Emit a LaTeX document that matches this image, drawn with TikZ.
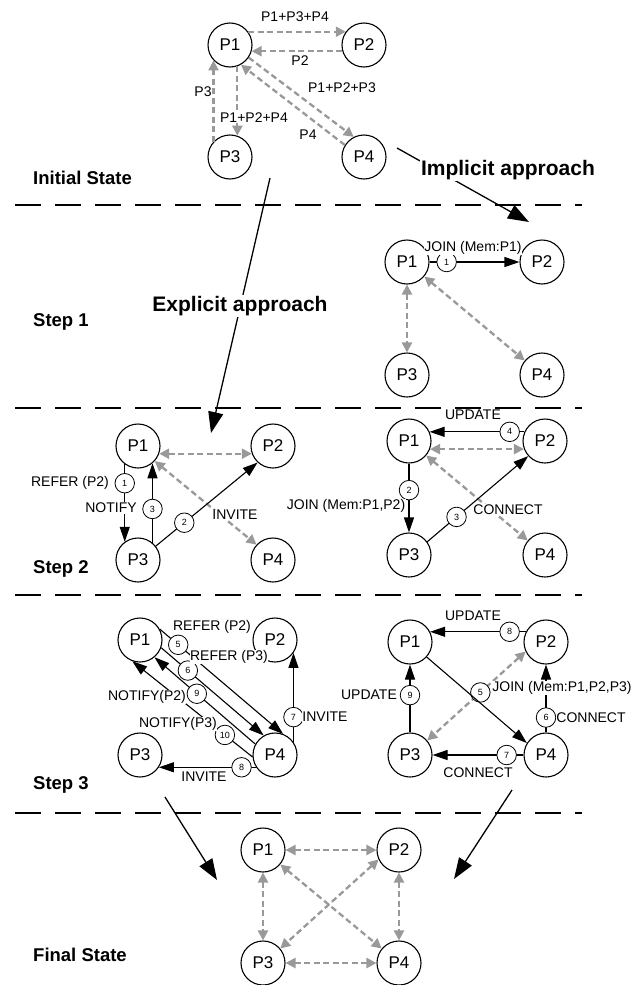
\documentclass[tikz,border=0pt]{standalone}
\usepackage{fontspec}
\setmainfont{Liberation Sans}
\usetikzlibrary{arrows.meta}
\definecolor{lgray}{RGB}{153,153,153}
\begin{document}
\begin{tikzpicture}[x=1pt,y=-1pt,
 pnode/.style={circle, draw, fill=white, line width=1.1pt, minimum size=44pt, inner sep=0pt, font=\fontsize{17}{17}\selectfont},
 num/.style={circle, draw=black, solid, fill=white, text=black, line width=0.8pt, minimum size=19.5pt, inner sep=0pt, font=\fontsize{9}{9}\selectfont},
 lbl/.style={fill=white, inner sep=0.6pt, font=\fontsize{14}{14}\selectfont},
 sarr/.style={line width=1.1pt, -{Triangle[length=15pt,width=10pt]}},
 gline/.style={draw=lgray, line width=2.3pt, dash pattern=on 6pt off 3.5pt},
 garr/.style={gline, -{Triangle[length=10pt,width=10pt]}},
 gdbl/.style={gline, {Triangle[length=10pt,width=10pt]}-{Triangle[length=10pt,width=10pt]}},
 bigarr/.style={line width=1.3pt, -{Triangle[length=21pt,width=15pt]}},
 steplbl/.style={anchor=west, inner sep=0pt, font=\bfseries\fontsize{18.5}{18.5}\selectfont},
 applbl/.style={fill=white, inner sep=1pt, font=\bfseries\fontsize{21}{21}\selectfont},
 sepline/.style={line width=1.2pt, dash pattern=on 26pt off 14pt}]
\useasboundingbox (0,0) rectangle (644,985);

% separators
\draw[sepline] (15,205) -- (582,205);
\draw[sepline] (15,408) -- (582,408);
\draw[sepline] (15,595) -- (582,595);
\draw[sepline] (15,813) -- (582,813);

% stage labels
\node[steplbl] (lInit) at (33,178) {Initial State};
\node[steplbl] (lS1) at (33,322) {Step 1};
\node[steplbl] (lS2) at (33,569) {Step 2};
\node[steplbl] (lS3) at (33,785) {Step 3};
\node[steplbl] (lFin) at (33,955) {Final State};

% nodes
\node[pnode] (i1) at (230,45) {P1};
\node[pnode] (i2) at (364,45) {P2};
\node[pnode] (i3) at (230,157) {P3};
\node[pnode] (i4) at (364,157) {P4};

\node[pnode] (a1) at (407,262) {P1};
\node[pnode] (a2) at (542,262) {P2};
\node[pnode] (a3) at (407,375) {P3};
\node[pnode] (a4) at (542,375) {P4};

\node[pnode] (b1) at (138,446) {P1};
\node[pnode] (b2) at (273,446) {P2};
\node[pnode] (b3) at (138,560) {P3};
\node[pnode] (b4) at (273,560) {P4};

\node[pnode] (c1) at (409,441) {P1};
\node[pnode] (c2) at (545,441) {P2};
\node[pnode] (c3) at (409,555) {P3};
\node[pnode] (c4) at (545,555) {P4};

\node[pnode] (d1) at (140,640) {P1};
\node[pnode] (d2) at (275,640) {P2};
\node[pnode] (d3) at (140,755) {P3};
\node[pnode] (d4) at (275,755) {P4};

\node[pnode] (e1) at (410,642) {P1};
\node[pnode] (e2) at (546,642) {P2};
\node[pnode] (e3) at (410,755) {P3};
\node[pnode] (e4) at (546,755) {P4};

\node[pnode] (f1) at (263,850) {P1};
\node[pnode] (f2) at (399,850) {P2};
\node[pnode] (f3) at (263,963) {P3};
\node[pnode] (f4) at (399,963) {P4};

% big arrows
\coordinate (ex0) at (270,178);
\coordinate (ex1) at (211,433);
\coordinate (im0) at (397,148);
\coordinate (im1) at (529,222);
\coordinate (fl0) at (165,797);
\coordinate (fl1) at (217,880);
\coordinate (fr0) at (512,790);
\coordinate (fr1) at (454,879);
\draw[bigarr] (ex0) -- (ex1);
\draw[bigarr] (im0) -- (im1);
\draw[bigarr] (fl0) -- (fl1);
\draw[bigarr] (fr0) -- (fr1);
\node[applbl] (expl) at (240,306) {Explicit approach};
\node[applbl] (impl) at (508,170) {Implicit approach};

% initial state
\draw[garr] (i1.36) -- (i2.144);
\draw[garr] (i2.196) -- (i1.-16);
\draw[garr] (i3.137) -- (i1.223);
\draw[garr] (i1.-71) -- (i3.71);
\draw[garr] (i1.-34) -- (i4.117);
\draw[garr] (i4.148) -- (i1.-61);
\node[lbl] (t1) at (295,17) {P1+P3+P4};
\node[lbl] (t2) at (300,61) {P2};
\node[lbl] (t3) at (203,92) {P3};
\node[lbl] (t4) at (254,118) {P1+P2+P4};
\node[lbl] (t5) at (342,88) {P1+P2+P3};
\node[lbl] (t6) at (308,135) {P4};

% step 1
\draw[gdbl] (a1.south) -- (a3.north);
\draw[gdbl] (a1.-40) -- (a4.140);
\draw[sarr] (a1.east) -- node[num,pos=0.19]{1} (a2.west);
\node[lbl] (s1a) at (473,248) {JOIN (Mem:P1)};

% step 2 left
\draw[gdbl] (b1.-20) -- (b2.200);
\draw[gdbl] (b1.-42) -- (b4.137);
\draw[sarr] (b1.234) -- node[num,pos=0.245]{1} (b3.126);
\draw[sarr] (b3.50) -- node[num,pos=0.425]{3} (b1.-50);
\draw[sarr] (b3.38) -- node[num,pos=0.28]{2} (b2.227);
\node[lbl] (s2a) at (70,483) {REFER (P2)};
\node[lbl] (s2b) at (111,508) {NOTIFY};
\node[lbl] (s2c) at (235,515) {INVITE};

% step 2 right
\draw[gdbl] (c1.-21) -- (c2.201);
\draw[gdbl] (c1.-40) -- (c4.140);
\draw[sarr] (c2.156) -- node[num,pos=0.155]{4} (c1.24);
\draw[sarr] (c1.south) -- node[num,pos=0.386]{2} (c3.north);
\draw[sarr] (c3.36) -- node[num,pos=0.29]{3} (c2.222);
\node[lbl] (s2d) at (473,415) {UPDATE};
\node[lbl,anchor=east] (s2e) at (406,506) {JOIN (Mem:P1,P2)};
\node[lbl] (s2f) at (508,510) {CONNECT};

% step 3 left
\draw[sarr] (d1.29) -- node[num,pos=0.15]{5} (d4.69);
\draw[sarr] (d1.-20) -- node[num,pos=0.26]{6} (d4.120);
\draw[sarr] (d4.151) -- node[num,pos=0.58]{9} (d1.-50);
\draw[sarr] (d4.185) -- node[num,pos=0.23]{10} (d1.-110);
\draw[sarr] (d4.35) -- node[num,pos=0.28]{7} (d2.-35);
\draw[sarr] (d4.213) -- node[num,pos=0.15]{8} (d3.-33);
\node[lbl] (s3a) at (212,627) {REFER (P2)};
\node[lbl] (s3b) at (229,657) {REFER (P3)};
\node[lbl] (s3c) at (147,697) {NOTIFY(P2)};
\node[lbl] (s3d) at (178,724) {NOTIFY(P3)};
\node[lbl] (s3e) at (325,717) {INVITE};
\node[lbl] (s3f) at (204,777) {INVITE};

% step 3 right
\draw[gdbl] (e2.205) -- node[num,pos=0.46]{5} (e3.40);
\draw[sarr] (e2.153) -- node[num,pos=0.17]{8} (e1.27);
\draw[sarr] (e1.-42) -- (e4.148);
\draw[sarr] (e4.north) -- node[num,pos=0.22]{6} (e2.south);
\draw[sarr] (e4.west) -- node[num,pos=0.185]{7} (e3.east);
\draw[sarr] (e3.north) -- node[num,pos=0.55]{9} (e1.south);
\node[lbl] (s3g) at (473,616) {UPDATE};
\node[lbl] (s3h) at (562,688) {JOIN (Mem:P1,P2,P3)};
\node[lbl] (s3i) at (591,718) {CONNECT};
\node[lbl] (s3j) at (478,773) {CONNECT};
\node[lbl] (s3k) at (369,695) {UPDATE};

% final state
\draw[gdbl] (f1.east) -- (f2.west);
\draw[gdbl] (f3.east) -- (f4.west);
\draw[gdbl] (f1.south) -- (f3.north);
\draw[gdbl] (f2.south) -- (f4.north);
\draw[gdbl] (f1.-40) -- (f4.140);
\draw[gdbl] (f2.205) -- (f3.40);
\end{tikzpicture}
\end{document}
